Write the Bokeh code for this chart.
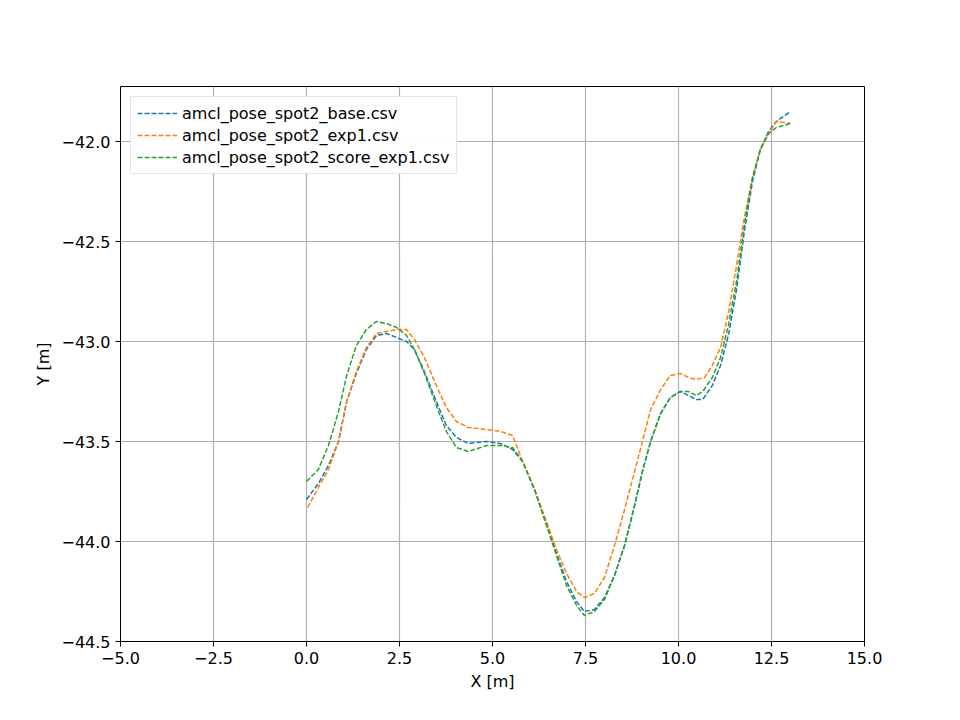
from bokeh.plotting import figure
from bokeh.embed import file_html
from bokeh.resources import INLINE
from bokeh.models import Range1d, FixedTicker, CustomJSTickFormatter, Legend, LegendItem

names = ["amcl_pose_spot2_base.csv", "amcl_pose_spot2_exp1.csv", "amcl_pose_spot2_score_exp1.csv"]
colors = ["#1f77b4", "#ff7f0e", "#2ca02c"]

base_x = [0.0, 0.32, 0.59, 0.86, 1.08, 1.34, 1.61, 1.88, 2.15, 2.42, 2.69, 2.90, 3.17, 3.49, 3.76, 4.03, 4.35, 4.84, 5.22, 5.54, 5.81, 6.13, 6.45, 6.72, 6.99, 7.26, 7.47, 7.74, 8.01, 8.28, 8.55, 8.82, 9.03, 9.25, 9.52, 9.78, 10.05, 10.27, 10.48, 10.65, 10.91, 11.13, 11.34, 11.56, 11.77, 11.99, 12.20, 12.42, 12.63, 13.01]
base_y = [-43.79, -43.71, -43.62, -43.50, -43.30, -43.16, -43.04, -42.97, -42.96, -42.98, -43.00, -43.04, -43.15, -43.30, -43.42, -43.48, -43.51, -43.50, -43.51, -43.54, -43.60, -43.74, -43.91, -44.06, -44.20, -44.30, -44.35, -44.34, -44.28, -44.17, -44.02, -43.82, -43.65, -43.50, -43.36, -43.28, -43.25, -43.27, -43.29, -43.29, -43.22, -43.12, -42.97, -42.74, -42.45, -42.20, -42.04, -41.95, -41.90, -41.85]

exp1_x = [0.03, 0.32, 0.59, 0.86, 1.08, 1.34, 1.61, 1.88, 2.15, 2.42, 2.69, 2.90, 3.17, 3.49, 3.76, 4.03, 4.35, 4.84, 5.22, 5.54, 5.81, 6.13, 6.45, 6.72, 6.99, 7.26, 7.47, 7.74, 8.01, 8.28, 8.55, 8.82, 9.03, 9.25, 9.52, 9.78, 10.05, 10.27, 10.48, 10.70, 10.91, 11.13, 11.34, 11.56, 11.77, 11.99, 12.20, 12.42, 12.63, 13.01]
exp1_y = [-43.83, -43.73, -43.64, -43.50, -43.30, -43.15, -43.03, -42.96, -42.95, -42.94, -42.94, -42.99, -43.08, -43.22, -43.33, -43.40, -43.43, -43.44, -43.45, -43.47, -43.60, -43.74, -43.90, -44.04, -44.16, -44.25, -44.28, -44.26, -44.18, -44.02, -43.84, -43.65, -43.50, -43.34, -43.24, -43.17, -43.16, -43.18, -43.19, -43.18, -43.12, -43.03, -42.86, -42.62, -42.38, -42.18, -42.04, -41.96, -41.90, -41.91]

score_x = [0.0, 0.32, 0.59, 0.86, 1.08, 1.34, 1.61, 1.88, 2.15, 2.42, 2.69, 2.90, 3.17, 3.49, 3.76, 4.03, 4.35, 4.84, 5.22, 5.54, 5.81, 6.13, 6.45, 6.72, 6.99, 7.26, 7.47, 7.74, 8.01, 8.28, 8.55, 8.82, 9.03, 9.25, 9.52, 9.78, 10.05, 10.27, 10.48, 10.65, 10.91, 11.13, 11.34, 11.56, 11.77, 11.99, 12.20, 12.42, 12.63, 13.01]
score_y = [-43.70, -43.64, -43.52, -43.35, -43.17, -43.02, -42.94, -42.90, -42.91, -42.93, -42.97, -43.04, -43.16, -43.32, -43.45, -43.53, -43.55, -43.52, -43.52, -43.53, -43.60, -43.74, -43.92, -44.07, -44.22, -44.32, -44.37, -44.35, -44.29, -44.17, -44.02, -43.82, -43.65, -43.50, -43.36, -43.28, -43.25, -43.25, -43.27, -43.25, -43.18, -43.08, -42.92, -42.70, -42.42, -42.18, -42.04, -41.96, -41.93, -41.91]

xs = [base_x, exp1_x, score_x]
ys = [base_y, exp1_y, score_y]

p = figure(width=944, height=704, output_backend="svg", toolbar_location=None,
           x_range=Range1d(-5, 15), y_range=Range1d(-44.5, -41.725),
           min_border_left=120, min_border_right=80, min_border_top=86, min_border_bottom=63)
p.outline_line_color = "black"
p.xaxis.ticker = FixedTicker(ticks=[-5, -2.5, 0, 2.5, 5, 7.5, 10, 12.5, 15])
p.yaxis.ticker = FixedTicker(ticks=[-44.5, -44.0, -43.5, -43.0, -42.5, -42.0])
p.xaxis.formatter = CustomJSTickFormatter(code="return tick.toFixed(1).replace('-', '\u2212');")
p.yaxis.formatter = CustomJSTickFormatter(code="return tick.toFixed(1).replace('-', '\u2212');")
p.xaxis.axis_label = "X [m]"
p.yaxis.axis_label = "Y [m]"
for ax in (p.xaxis[0], p.yaxis[0]):
    ax.axis_label_text_font_style = "normal"
    ax.axis_label_text_font_size = "12pt"
    ax.major_label_text_font_size = "12pt"
    ax.axis_label_text_font = "DejaVu Sans"
    ax.major_label_text_font = "DejaVu Sans"
    ax.axis_label_text_color = "black"
    ax.major_label_text_color = "black"
    ax.minor_tick_line_color = None
    ax.major_tick_line_color = "black"
    ax.major_tick_in = 0
    ax.major_tick_out = 5
    ax.axis_line_color = None
p.grid.grid_line_color = "#b0b0b0"
p.grid.grid_line_width = 1.2
p.grid.grid_line_alpha = 1.0

items = []
for x, y, c, n in zip(xs, ys, colors, names):
    r = p.line(x, y, line_color=c, line_width=1.5, line_dash="5 2")
    items.append(LegendItem(label=n, renderers=[r]))
leg = Legend(items=items, location="top_left", label_text_font="DejaVu Sans",
             label_text_font_size="12pt", label_text_color="black", border_line_color="#cccccc",
             spacing=2, padding=6, glyph_width=40, margin=10)
p.add_layout(leg)

open("out.html", "w").write(file_html(p, INLINE))
